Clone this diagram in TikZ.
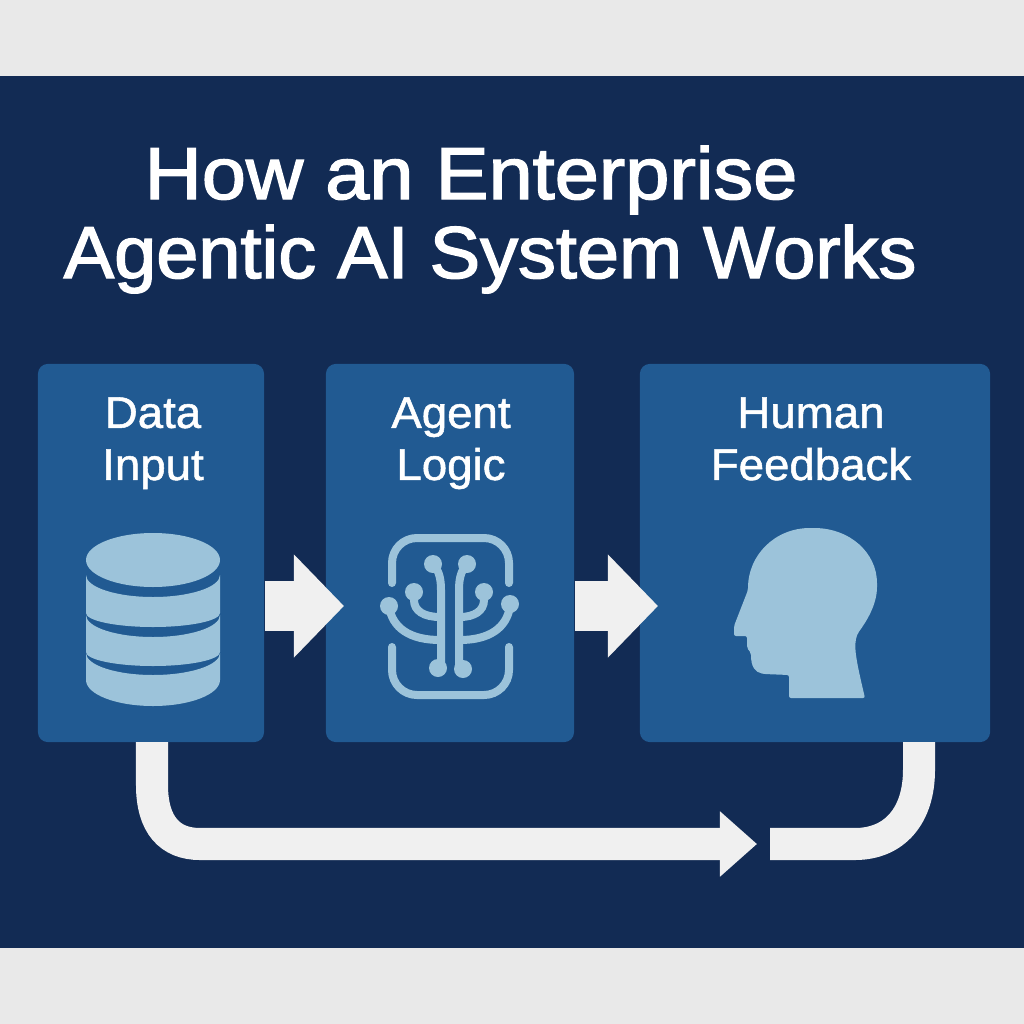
\documentclass[tikz,border=0pt]{standalone}
\usepackage{fontspec}
\setmainfont{Liberation Sans}
\newfontfamily\titlefont[FakeBold=2,FakeStretch=1.03]{Liberation Sans}
\newfontfamily\titlewidefont[FakeBold=2,FakeStretch=1.08]{Liberation Sans}
\newfontfamily\labelfont[FakeBold=1.2,FakeStretch=1.03]{Liberation Sans}
\usetikzlibrary{arrows.meta,calc}
\definecolor{pagegrey}{HTML}{E9E9E9}
\definecolor{navy}{HTML}{122B54}
\definecolor{panelblue}{HTML}{215A92}
\definecolor{iconblue}{HTML}{9CC3DA}
\definecolor{arrowwhite}{HTML}{F0F0F0}

\begin{document}
\begin{tikzpicture}[x=0.01cm,y=-0.01cm,
    panel/.style={fill=panelblue,rounded corners=0.1cm,minimum height=3.78cm,inner sep=0pt},
    panel label/.style={text=white,align=center,font=\labelfont\fontsize{12.6}{14.8}\selectfont,anchor=north},
    title line/.style={text=white,anchor=base,inner sep=0pt},
    step arrow/.style={draw=arrowwhite,line width=0.5cm,-{Triangle[length=0.5cm,width=1cm]}},
    loop line/.style={draw=arrowwhite,line width=0.32cm},
    circuit/.style={draw=iconblue,line width=0.08cm,line cap=round}]

\useasboundingbox (0,0) rectangle (1024,1024);
\fill[pagegrey] (0,0) rectangle (1024,1024);
\fill[navy] (0,76) rectangle (1024,948);

\node[title line,font=\titlewidefont\fontsize{20.9}{24}\selectfont] (title1) at (471,199) {How an Enterprise};
\node[title line,font=\titlefont\fontsize{20.9}{24}\selectfont] (title2) at (490,278) {Agentic AI System Works};

\node[panel,minimum width=2.26cm] (data) at (151,553) {};
\node[panel,minimum width=2.48cm] (agent) at (450,553) {};
\node[panel,minimum width=3.5cm] (feedback) at (815,553) {};

\node[panel label] (datalabel) at (153,385) {Data\\Input};
\node[panel label] (agentlabel) at (451,385) {Agent\\Logic};
\node[panel label] (feedbacklabel) at (811,385) {Human\\Feedback};

% database
\fill[iconblue] (153,560) ellipse [x radius=67,y radius=27];
\foreach \top/\bottom/\sag in {575/613/14,615/652/14,653/680/26}
  \fill[iconblue] (86,\top) arc[start angle=180,end angle=0,x radius=67,y radius=22]
    -- (220,\bottom) arc[start angle=0,end angle=180,x radius=67,y radius=\sag] -- cycle;

% circuit
\draw[circuit] (392,583) -- (392,563) arc[start angle=180,end angle=270,radius=25]
  -- (484,538) arc[start angle=-90,end angle=0,radius=25] -- (509,583);
\draw[circuit] (392,647) -- (392,670) arc[start angle=180,end angle=90,radius=25]
  -- (484,695) arc[start angle=90,end angle=0,radius=25] -- (509,647);
\draw[circuit] (433,564) .. controls (438,570) and (441,576) .. (441,590) -- (441,668);
\draw[circuit] (467,564) .. controls (462,570) and (459,576) .. (459,590) -- (459,668);
\draw[circuit] (414,592) -- (414,600) .. controls (414,611) and (424,617) .. (440,617);
\draw[circuit] (484,592) -- (484,600) .. controls (484,611) and (474,617) .. (460,617);
\draw[circuit] (389,606) .. controls (392,628) and (410,640) .. (440,640);
\draw[circuit] (510,606) .. controls (507,628) and (489,640) .. (460,640);
\foreach \dotx/\doty in {433/564,467/564,414/592,484/592,389/606,510/604,438/668,463/669}
  \fill[iconblue] (\dotx,\doty) circle [radius=9];

% head
\fill[iconblue,rounded corners=0.02cm] (748,590) .. controls (748,555) and (775,528) .. (812,528)
  .. controls (850,528) and (877,553) .. (877,585)
  .. controls (877,605) and (866,622) .. (858,633)
  .. controls (853,645) and (856,660) .. (865,698)
  -- (789,698) -- (789,675) -- (764,674)
  .. controls (755,672) and (751,667) .. (751,653)
  -- (747,648) -- (747,636) -- (734,636) -- (734,626) -- cycle;

% arrows
\coordinate (agentin) at (344,606);
\coordinate (feedbackin) at (658,606);
\draw[step arrow] (data.east |- agentin) -- (agentin);
\draw[step arrow] (agent.east |- feedbackin) -- (feedbackin);

\coordinate (loopstart) at (152,742);
\coordinate (looptip) at (757,844);
\coordinate (loopout) at (919,742);
\coordinate (loopend) at (770,844);
\draw[loop line,-{Triangle[length=0.37cm,width=0.63cm]}] (loopstart) -- (152,785)
  .. controls (152,825) and (170,844) .. (200,844) -- (looptip);
\draw[loop line] (loopout) -- (919,770)
  .. controls (919,815) and (895,844) .. (855,844) -- (loopend);

\end{tikzpicture}
\end{document}
